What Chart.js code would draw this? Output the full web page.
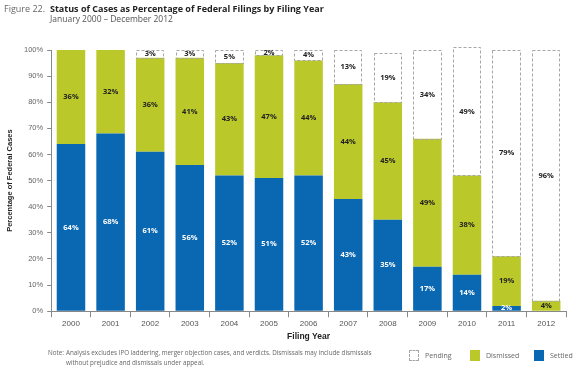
<!DOCTYPE html>
<html>
<head>
<meta charset="utf-8">
<script src="https://cdn.jsdelivr.net/npm/chart.js@4"></script>
<style>
  body{margin:0;background:#fff;font-family:"Open Sans",sans-serif;}
  #wrap{position:relative;width:574px;height:374px;}
  #fig{position:absolute;left:4px;top:2px;font-size:9px;color:#666;}
  #ttl{position:absolute;left:50px;top:2px;font-size:9px;font-weight:bold;color:#222;}
  #sub{position:absolute;left:50px;top:13px;font-size:8.5px;color:#555;}
  #note{position:absolute;left:48px;top:348px;font-size:6.3px;color:#666;line-height:10px;}
  #note span{display:inline-block;width:18px;}
  #note .l2{padding-left:18px;}
  .lg{position:absolute;top:350px;font-size:7px;color:#666;line-height:11px;}
  .lg i{position:absolute;left:0;top:0;width:10px;height:11px;box-sizing:border-box;}
  .lg b{font-weight:normal;position:absolute;left:16px;top:0;white-space:nowrap;}
</style>
</head>
<body>
<div id="wrap">
  <div id="fig">Figure 22.</div>
  <div id="ttl">Status of Cases as Percentage of Federal Filings by Filing Year</div>
  <div id="sub">January 2000 – December 2012</div>
  <canvas id="bieu_do" width="574" height="374"></canvas>
  <div id="note"><span>Note:</span>Analysis excludes IPO laddering, merger objection cases, and verdicts. Dismissals may include dismissals<br><div class="l2">without prejudice and dismissals under appeal.</div></div>
  <div id="chu_giai"></div>
</div>
<script>
var nam = ["2000","2001","2002","2003","2004","2005","2006","2007","2008","2009","2010","2011","2012"];
var settled   = [64, 68, 61, 56, 52, 51, 52, 43, 35, 17, 14, 2, 0];
var dismissed = [36, 32, 36, 41, 43, 47, 44, 44, 45, 49, 38, 19, 4];
var pending   = [0, 0, 3, 3, 5, 2, 4, 13, 19, 34, 49, 79, 96];
var y_ticks = [0,10,20,30,40,50,60,70,80,90,100];

var mau_settled = "#0a67b1";
var mau_dismissed = "#bac82a";
var mau_vien = "#a6a6a6";

// vien net dut cho Pending + nhan % giua moi doan
var nhan_plugin = {
    id: "nhan",
    afterDatasetsDraw: function(chart){
        var ctx = chart.ctx;
        ctx.save();
        chart.data.datasets.forEach(function(ds, i){
            if(ds.label != "Pending") return;
            chart.getDatasetMeta(i).data.forEach(function(bar, j){
                if(!ds.data[j]) return;
                var l = Math.round(bar.x - bar.width / 2) + 0.5;
                var r = Math.round(bar.x + bar.width / 2) - 0.5;
                var t = Math.round(bar.y) + 0.5;
                var b = Math.round(bar.base) + 0.5;
                ctx.strokeStyle = mau_vien;
                ctx.lineWidth = 1;
                ctx.setLineDash([3, 2]);
                ctx.strokeRect(l, t, r - l, b - t);
            });
        });
        ctx.setLineDash([]);
        ctx.font = "bold 7.5px 'Open Sans', sans-serif";
        ctx.textAlign = "center";
        ctx.textBaseline = "middle";
        chart.data.datasets.forEach(function(ds, i){
            chart.getDatasetMeta(i).data.forEach(function(bar, j){
                var v = ds.data[j];
                if(!v) return;
                ctx.fillStyle = ds.label == "Settled" ? "#fff" : "#222";
                ctx.fillText(v + "%", bar.x, (bar.y + bar.base) / 2);
            });
        });
        ctx.restore();
    }
};

var bieu_do = new Chart(document.getElementById("bieu_do").getContext("2d"), {
    type: "bar",
    data: {
        labels: nam,
        datasets: [
            {label:"Settled", data:settled, backgroundColor:mau_settled, borderWidth:0},
            {label:"Dismissed", data:dismissed, backgroundColor:mau_dismissed, borderWidth:0},
            {label:"Pending", data:pending, backgroundColor:"#ffffff", borderWidth:0}
        ]
    },
    options: {
        responsive: false,
        animation: false,
        layout: {padding: {top: 50, right: 8, left: 5, bottom: 32}},
        datasets: {bar: {barPercentage: 0.72, categoryPercentage: 1}},
        scales: {
            x: {
                stacked: true,
                grid: {drawOnChartArea: false, tickLength: 6, color: "#888"},
                border: {color: "#888"},
                ticks: {color: "#555", font: {size: 8}, padding: 2},
                title: {display: true, text: "Filing Year", color: "#222",
                        font: {size: 8.5, weight: "bold"}, padding: {top: 1, bottom: 0}}
            },
            y: {
                stacked: true,
                min: 0, max: 100,
                afterBuildTicks: function(ax){ ax.ticks = y_ticks.map(function(v){ return {value: v}; }); },
                grid: {drawOnChartArea: false, tickLength: 4, color: "#888"},
                border: {color: "#888"},
                ticks: {color: "#666", font: {size: 7.5}, padding: 4,
                        callback: function(v){ return v + "%"; }},
                title: {display: true, text: "Percentage of Federal Cases", color: "#222",
                        font: {size: 7.5, weight: "bold"}, padding: {top: 0, bottom: 6}}
            }
        },
        plugins: {
            legend: {display: false},
            tooltip: {enabled: false}
        }
    },
    plugins: [nhan_plugin]
});

// chu giai
var chu_giai = [
    {ten:"Pending", x:409, kieu:"border:1px dashed " + mau_vien + ";background:#fff"},
    {ten:"Dismissed", x:470, kieu:"background:" + mau_dismissed},
    {ten:"Settled", x:534, kieu:"background:" + mau_settled}
];
var html = "";
chu_giai.forEach(function(c){
    html += '<div class="lg" style="left:' + c.x + 'px"><i style="' + c.kieu + '"></i><b>' + c.ten + '</b></div>';
});
document.getElementById("chu_giai").innerHTML = html;
</script>
</body>
</html>
